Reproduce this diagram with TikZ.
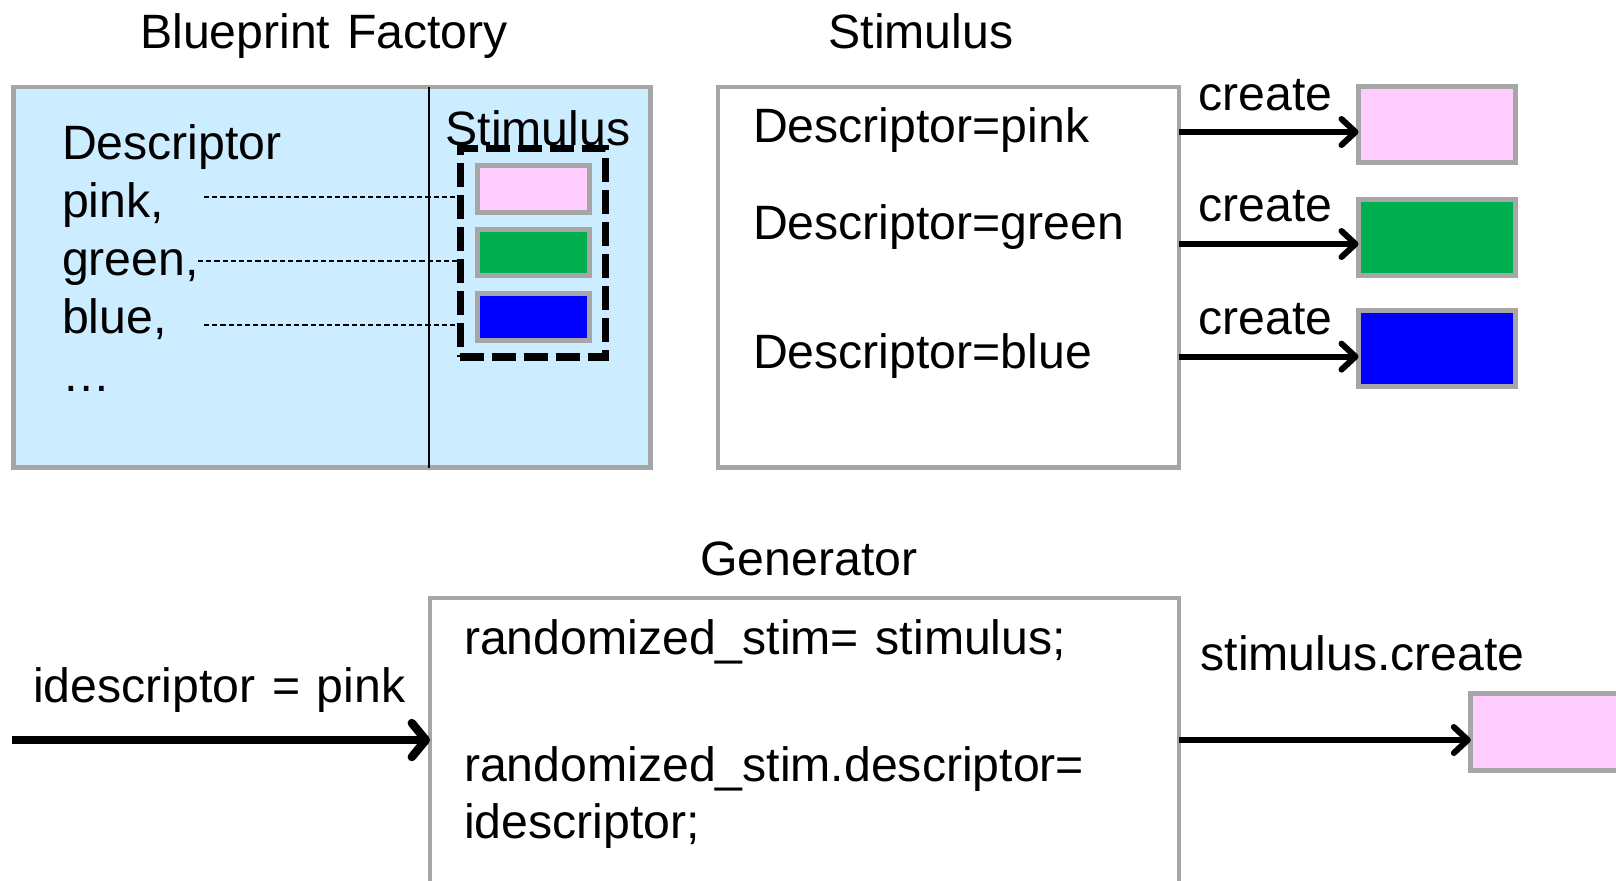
\documentclass[tikz,border=0pt]{standalone}
\usepackage{fontspec}
\setmainfont{Liberation Sans}[WordSpace=1.25]
\usetikzlibrary{fit,arrows.meta}
\definecolor{framegray}{HTML}{A6A6A6}
\definecolor{paleblue}{HTML}{CCECFF}
\definecolor{stimpink}{HTML}{FFCCFF}
\definecolor{stimgreen}{HTML}{00B050}
\definecolor{stimblue}{HTML}{0000FF}
\begin{document}
\begin{tikzpicture}[x=0.5bp,y=-0.5bp,
  every node/.style={inner sep=0pt,outer sep=0pt},
  frame/.style={draw=framegray,line width=2.25bp},
  chip/.style={draw=framegray,line width=2.5bp},
  txt/.style={font=\fontsize{24.1bp}{28bp}\selectfont,anchor=base west},
  ttl/.style={font=\fontsize{24.1bp}{28bp}\selectfont,anchor=base},
  link/.style={draw=black,line width=0.9bp,dash pattern=on 2.6bp off 1.5bp},
  arr/.style={line width=3bp,-{Straight Barb[length=7bp,width=13bp,round]}},
  bigarr/.style={line width=4.2bp,-{Straight Barb[length=7bp,width=17bp,round]}}]
\clip (0,0) rectangle (1616,880);

% ---- Blueprint factory ----
\node[ttl] (t1) at (324,48.5) {Blueprint Factory};
\node[frame,fill=paleblue,fit={(13.5,86.8) (650.7,467.7)}] (bp) {};
\coordinate (vx) at (428.7,0);
\draw[line width=1bp] (bp.north -| vx) -- (bp.south -| vx);
\node[ttl] (st) at (538,145) {Stimulus};
\node[draw=black,line width=3.6bp,dash pattern=on 12bp off 4bp,
      fit={(460.4,148.7) (605.3,357)}] (dbox) {};
\node[chip,fill=stimpink,fit={(477.5,165.8) (589.2,212.5)}] (sp) {};
\node[chip,fill=stimgreen,fit={(477.5,229.2) (589.2,275.8)}] (sg) {};
\node[chip,fill=stimblue,fit={(477.5,293.2) (589.2,340.2)}] (sb) {};
\node[txt] (d0) at (62,159) {Descriptor};
\node[txt] (d1) at (62,217) {pink,};
\node[txt] (d2) at (62,275) {green,};
\node[txt] (d3) at (62,333) {blue,};
\node[txt] (d4) at (62,391) {…};
\coordinate (l1) at (204,196.7);
\coordinate (l2) at (198,260.7);
\coordinate (l3) at (204,325);
\draw[link] (l1) -- (dbox.west |- l1);
\draw[link] (l2) -- (dbox.west |- l2);
\draw[link] (l3) -- (dbox.west |- l3);

% ---- Stimulus ----
\node[ttl] (t2) at (921,48.5) {Stimulus};
\node[frame,fill=white,fit={(718.2,86.8) (1178.8,467.7)}] (sbox) {};
\node[txt] (e1) at (753,142) {Descriptor=pink};
\node[txt] (e2) at (753,239) {Descriptor=green};
\node[txt] (e3) at (753,368) {Descriptor=blue};
\node[chip,fill=stimpink,fit={(1358.5,86.8) (1515.8,162.7)}] (rp) {};
\node[chip,fill=stimgreen,fit={(1358.5,199) (1515.8,275)}] (rg) {};
\node[chip,fill=stimblue,fit={(1358.5,310.5) (1515.8,386.3)}] (rb) {};
\node[ttl] (c1) at (1265.6,110) {create};
\node[ttl] (c2) at (1265.6,221.6) {create};
\node[ttl] (c3) at (1265.6,334) {create};
\coordinate (a1) at (0,132);
\coordinate (a2) at (0,244);
\coordinate (a3) at (0,356.6);
\draw[arr] (sbox.east |- a1) -- (rp.west |- a1);
\draw[arr] (sbox.east |- a2) -- (rg.west |- a2);
\draw[arr] (sbox.east |- a3) -- (rb.west |- a3);

% ---- Generator ----
\node[ttl] (t3) at (809,575) {Generator};
\node[frame,fill=white,fit={(430,598) (1178.8,930)}] (gen) {};
\node[txt] (g1) at (464,654.5) {randomized\_stim= stimulus;};
\node[txt] (g2) at (464,781) {randomized\_stim.descriptor=};
\node[txt] (g3) at (464,838) {idescriptor;};
\node[txt] (inp) at (33,702) {idescriptor = pink};
\node[txt] (outl) at (1200.6,670) {stimulus.create};
\node[chip,fill=stimpink,fit={(1470.8,693.8) (1700,770.7)}] (op) {};
\coordinate (ga) at (12,740);
\draw[bigarr] (ga) -- (gen.west |- ga);
\draw[arr] (gen.east |- ga) -- (op.west |- ga);
\end{tikzpicture}
\end{document}
